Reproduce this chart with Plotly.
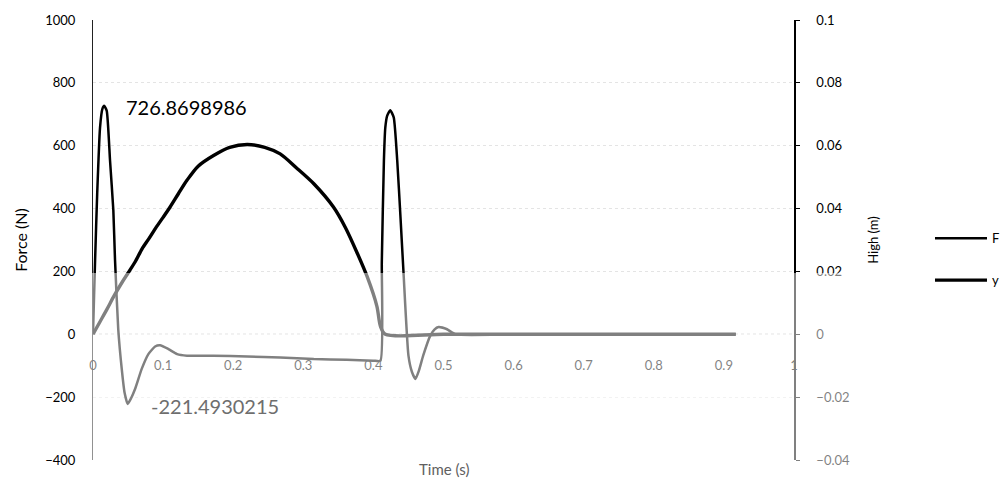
import plotly.graph_objects as go

# ---------------- data ----------------
time_F = [0, 0.003, 0.006, 0.010, 0.0135, 0.0160, 0.0196, 0.0243, 0.029, 0.0314, 0.036, 0.041,
          0.045, 0.0495, 0.054, 0.060, 0.0695, 0.079, 0.0886, 0.0957, 0.1076, 0.120, 0.134,
          0.172, 0.220, 0.267, 0.315, 0.362, 0.400, 0.410, 0.412, 0.415, 0.417, 0.4196, 0.424,
          0.429, 0.434, 0.4386, 0.443, 0.450, 0.455, 0.460, 0.465, 0.471, 0.481, 0.487, 0.493,
          0.505, 0.517, 0.600, 0.700, 0.800, 0.917]
force_F = [0, 237, 449, 657, 718, 726.8698986, 711, 553, 395, 237, 16, -110,
           -185, -221.4930215, -205, -174, -110, -63, -39, -35, -47, -63, -68,
           -68, -71, -74, -79, -81, -84, -84, 230, 553, 658, 695, 713,
           690, 553, 374, 195, -68, -120, -142, -115, -68, -5, 15, 23,
           16, 0, 0, 0, 0, 0]

time_y = [0, 0.01, 0.02, 0.03, 0.04, 0.05, 0.06, 0.07, 0.08, 0.09, 0.10, 0.11, 0.122, 0.134,
          0.15, 0.172, 0.195, 0.22, 0.245, 0.267, 0.29, 0.315, 0.343, 0.36, 0.377, 0.391,
          0.405, 0.41, 0.417, 0.5, 0.6, 0.7, 0.8, 0.917]
height_y = [0, 0.004, 0.008, 0.0122, 0.016, 0.0195, 0.023, 0.0272, 0.0305, 0.034, 0.0372,
            0.0405, 0.0448, 0.049, 0.0535, 0.0569, 0.0595, 0.0604, 0.0595, 0.0574, 0.053,
            0.0479, 0.0405, 0.034, 0.0258, 0.0184, 0.0089, 0.0026, 0, 0, 0, 0, 0, 0]

force_range = [-400, 1000]
height_range = [-0.04, 0.1]
time_range = [0, 1]

FONT = "Lato, 'Open Sans', sans-serif"

fig = go.Figure()
fig.add_trace(go.Scatter(x=time_F, y=force_F, name="F", mode="lines",
                         line=dict(color="#000000", width=2.5, shape="spline", smoothing=0.5),
                         legendgroup="F"))
fig.add_trace(go.Scatter(x=time_y, y=height_y, name="y", mode="lines", yaxis="y2",
                         line=dict(color="#000000", width=3.4, shape="spline", smoothing=0.8),
                         legendgroup="y"))

zero_pos = (0 - force_range[0]) / (force_range[1] - force_range[0])

# value annotations for the extremes of F
i_max = force_F.index(max(force_F))
i_min = force_F.index(min(force_F))
annotations = [
    dict(x=time_F[i_max], y=force_F[i_max], xref="x", yref="y", text=f"{force_F[i_max]:.7f}",
         showarrow=False, xanchor="left", yanchor="middle", xshift=20, yshift=-1,
         font=dict(family=FONT, size=20, color="#000")),
    dict(x=time_F[i_min], y=force_F[i_min], xref="x", yref="y", text=f"{force_F[i_min]:.7f}",
         showarrow=False, xanchor="left", yanchor="middle", xshift=21, yshift=-2,
         font=dict(family=FONT, size=20, color="#6e6e6e")),
    dict(x=0.5, y=-0.02, xref="paper", yref="paper", text="Time (s)", showarrow=False,
         xanchor="center", yanchor="middle", font=dict(family=FONT, size=15, color="#606060")),
]

shapes = [
    # dotted zero line
    dict(type="line", xref="x domain", yref="y", x0=0, x1=1, y0=0, y1=0,
         line=dict(color="#8a8a8a", width=1.2, dash="dot"), layer="below"),
    # scan fade over the lower part of the picture
    dict(type="rect", xref="paper", yref="paper", x0=-0.008, x1=1.1, y0=-0.06, y1=0.425,
         fillcolor="rgba(255,255,255,0.5)", line=dict(width=0), layer="above"),
]

fig.update_layout(
    width=1000, height=479,
    margin=dict(l=93, r=206, t=20, b=19, autoexpand=False),
    paper_bgcolor="white", plot_bgcolor="white",
    font=dict(family=FONT, size=13, color="#000"),
    showlegend=True,
    legend=dict(x=1.194, xanchor="left", y=0.538, yanchor="top", traceorder="grouped",
                tracegroupgap=22, itemwidth=52, font=dict(size=13, family=FONT),
                bgcolor="rgba(0,0,0,0)"),
    xaxis=dict(range=time_range, dtick=0.1, tick0=0, anchor="free", position=zero_pos,
               showline=False, showgrid=False, zeroline=False, ticks="", automargin=False,
               ticklabelstandoff=22, tickfont=dict(size=13, family=FONT, color="#000")),
    yaxis=dict(range=force_range, dtick=200, tick0=0, showline=True, linecolor="#222",
               linewidth=1, ticks="", showgrid=True, gridcolor="#e4e4e4", griddash="dot",
               gridwidth=1, zeroline=False, ticklabelstandoff=14, automargin=False,
               tickfont=dict(size=13, family=FONT, color="#000"),
               title=dict(text="Force (N)", standoff=13, font=dict(size=16, family=FONT))),
    yaxis2=dict(range=height_range, dtick=0.02, tick0=0, overlaying="y", side="right",
                showline=True, linecolor="#000", linewidth=1.5, ticks="outside", ticklen=4,
                tickcolor="#000", showgrid=False, zeroline=False, ticklabelstandoff=14,
                automargin=False, tickfont=dict(size=13, family=FONT, color="#000"),
                title=dict(text="High (m)", standoff=20, font=dict(size=13, family=FONT))),
    annotations=annotations,
    shapes=shapes,
)

fig.write_html("out.html")
